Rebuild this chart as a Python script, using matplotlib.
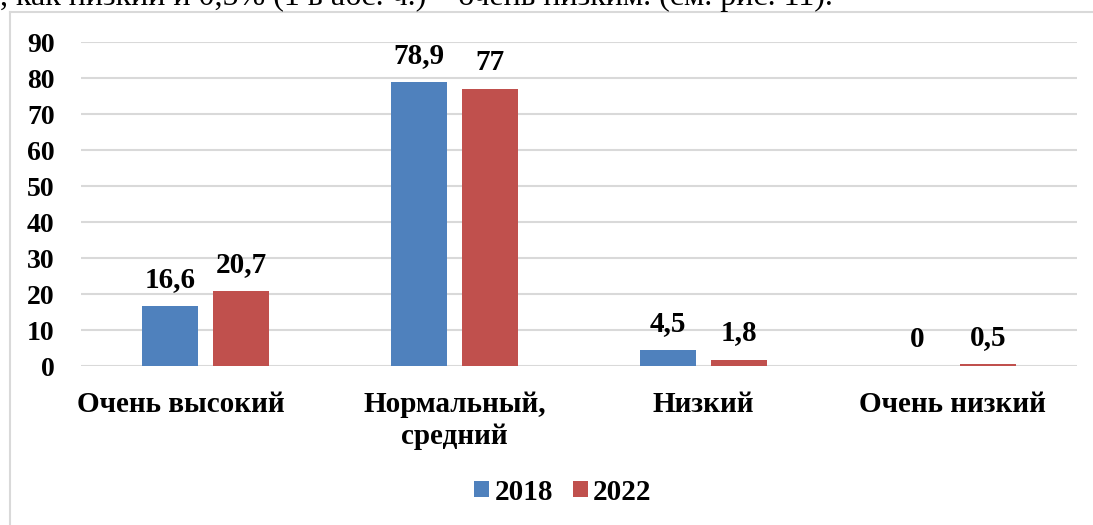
import matplotlib
matplotlib.use("Agg")
import matplotlib.pyplot as plt
from matplotlib.lines import Line2D
from matplotlib.transforms import ScaledTranslation
import numpy as np

categories = ["Очень высокий", "Нормальный,\nсредний", "Низкий", "Очень низкий"]
series_names = ["2018", "2022"]
values_2018 = [16.6, 78.9, 4.5, 0]
values_2022 = [20.7, 77, 1.8, 0.5]
labels_2018 = ["16,6", "78,9", "4,5", "0"]
labels_2022 = ["20,7", "77", "1,8", "0,5"]
colors = ["#4F81BD", "#C0504D"]

W, H = 1093, 525
fig = plt.figure(figsize=(W/100, H/100), dpi=100)
plt.rcParams['font.family'] = ['Liberation Serif', 'DejaVu Serif']

# frame of the chart object (left and top edges visible)
fig.add_artist(Line2D([10/W, 10/W], [-0.1, 1 - 12/H], transform=fig.transFigure,
                      color="#d9d9d9", linewidth=1.5))
fig.add_artist(Line2D([10/W, 1.1], [1 - 12/H, 1 - 12/H], transform=fig.transFigure,
                      color="#d9d9d9", linewidth=1.5))
# cut-off document text at top
fig.text(0, 1 - 5/H, ", как низкий и 0,5% (1 в абс. ч.) – очень низким. (см. рис. 11).",
         fontsize=23, ha="left", va="baseline", color="black")

ax = fig.add_axes([81/W, (H-366)/H, (1077-81)/W, (366-42)/H])
x = np.arange(len(categories))
bw = 0.225
off = 0.1425
b1 = ax.bar(x - off, values_2018, bw, color=colors[0], label=series_names[0], zorder=3)
b2 = ax.bar(x + off, values_2022, bw, color=colors[1], label=series_names[1], zorder=3)

for bars, labs in ((b1, labels_2018), (b2, labels_2022)):
    for b, l in zip(bars, labs):
        ax.annotate(l, (b.get_x() + b.get_width()/2, b.get_height()),
                    xytext=(0, 19), textcoords="offset pixels", ha="center", va="baseline",
                    fontsize=21, fontweight="bold")

ax.set_xlim(-0.5, 3.5)
ax.set_ylim(0, 90)
ax.set_yticks(range(0, 91, 10))
ax.yaxis.grid(True, color="#d9d9d9", linewidth=1.5, zorder=0)
for s in ax.spines.values():
    s.set_visible(False)
ax.tick_params(axis="y", length=0, pad=19, labelsize=20)
ax.tick_params(axis="x", length=0, pad=18, labelsize=21)
for t in ax.get_yticklabels():
    t.set_fontweight("bold")
ax.set_xticks(x)
ax.set_xticklabels(categories, fontweight="bold", linespacing=1.25, va="top")
first = ax.get_xticklabels()[0]
first.set_transform(first.get_transform() + ScaledTranslation(-0.25, 0, fig.dpi_scale_trans))

leg = fig.legend(loc="center", bbox_to_anchor=(563/W, 1 - 492/H), ncol=2, frameon=False,
                 prop={"weight": "bold", "size": 21}, handlelength=0.52, handleheight=0.48,
                 handletextpad=0.17, columnspacing=0.69)

fig.savefig("out.png", dpi=100)
